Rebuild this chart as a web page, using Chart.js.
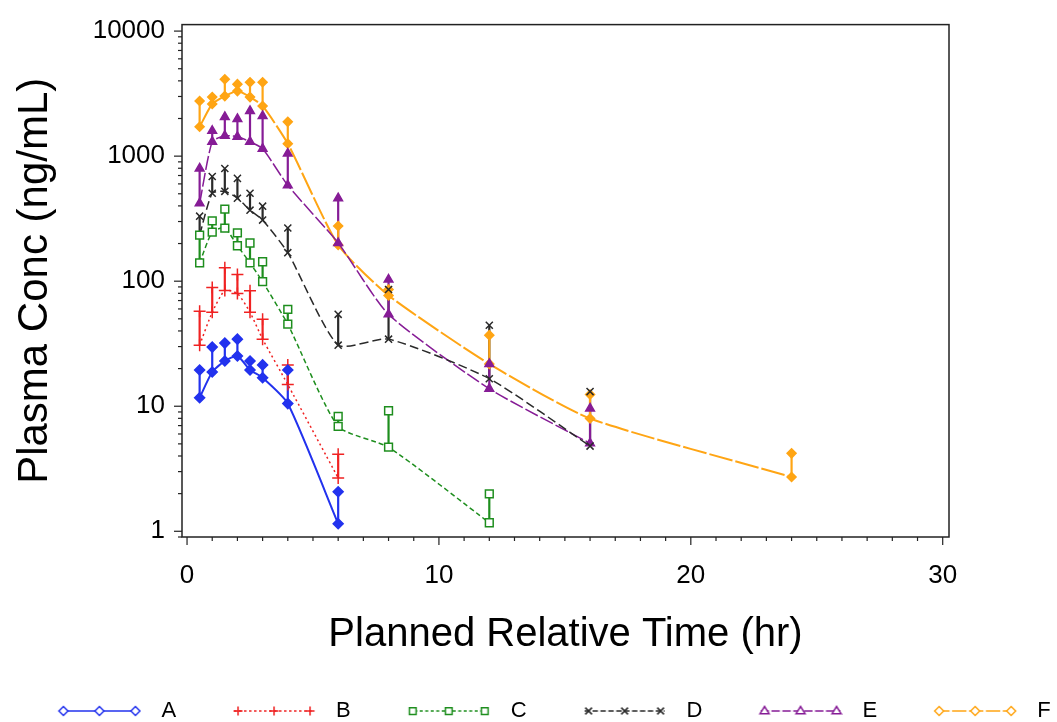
<!DOCTYPE html>
<html>
<head>
<meta charset="utf-8">
<script src="https://cdn.jsdelivr.net/npm/chart.js@4/dist/chart.umd.min.js"></script>
<style>
  body { margin: 0; background: #fff; overflow: hidden; }
  #wrap { width: 1057px; height: 722px; }
</style>
</head>
<body>
<div id="wrap"><canvas id="c"></canvas></div>
<script>
// sampling times (hr) per group
var timesAB = [0.5, 1, 1.5, 2, 2.5, 3, 4, 6];
var timesC  = [0.5, 1, 1.5, 2, 2.5, 3, 4, 6, 8, 12];
var timesDE = [0.5, 1, 1.5, 2, 2.5, 3, 4, 6, 8, 12, 16];
var timesF  = [0.5, 1, 1.5, 2, 2.5, 3, 4, 6, 8, 12, 16, 24];

// mean conc and mean+SD (top of error bar), ng/mL
var meanA  = [11.7, 18.8, 23.0, 25.2, 19.5, 16.9, 10.5, 1.15];
var upperA = [19.5, 29.7, 32.0, 34.4, 23.0, 21.4, 19.5, 2.07];
var meanB  = [30.8, 56.4, 84.2, 79.7, 56.4, 34.4, 14.9, 2.67];
var upperB = [57.4, 89, 128, 113, 84, 49.6, 21.4, 4.13];
var meanC  = [140, 247, 266, 192, 140, 99, 45.3, 6.9, 4.7, 1.17];
var upperC = [234, 303, 377, 243, 202, 143, 59.5, 8.3, 9.2, 1.99];
var meanD  = [234, 505, 523, 461, 370, 308, 169, 30.8, 34.4, 16.6, 4.8];
var upperD = [331, 688, 797, 664, 505, 398, 266, 54.3, 85.8, 44.4, 13.1];
var meanE  = [420, 1305, 1455, 1429, 1305, 1148, 584, 202, 54.3, 13.8, 5.05];
var upperE = [797, 1594, 2060, 1986, 2298, 2097, 1048, 461, 103, 21.8, 9.6];
var meanF  = [1716, 2612, 3022, 3313, 2967, 2518, 1258, 195, 76.9, 21.8, 7.98, 2.72];
var upperF = [2758, 2967, 4123, 3763, 3903, 3903, 1880, 276, 85.8, 37, 12.4, 4.2];

var groups = [
  {name: 'A', t: timesAB, mean: meanA, upper: upperA, color: '#2232ee', dash: [],      lw: 2,   marker: 'rectRot',  r: 5,   filled: true},
  {name: 'B', t: timesAB, mean: meanB, upper: upperB, color: '#f02222', dash: [2, 3],  lw: 1.5, marker: 'cross',    r: 6,   filled: false},
  {name: 'C', t: timesC,  mean: meanC, upper: upperC, color: '#1e8e1e', dash: [5, 3],  lw: 1.5, marker: 'rect',     r: 5.5, filled: false},
  {name: 'D', t: timesDE, mean: meanD, upper: upperD, color: '#2a2a2a', dash: [9, 4],  lw: 1.5, marker: 'crossRot', r: 5,   filled: false},
  {name: 'E', t: timesDE, mean: meanE, upper: upperE, color: '#861c96', dash: [14, 3], lw: 1.5, marker: 'triangle', r: 5,   filled: true},
  {name: 'F', t: timesF,  mean: meanF, upper: upperF, color: '#ffa514', dash: [24, 3], lw: 2,   marker: 'rectRot',  r: 4.5, filled: true}
];

function pts(t, v) {
  return t.map(function (x, k) { return {x: x, y: v[k]}; });
}

var datasets = [];
groups.forEach(function (g) {
  datasets.push({
    label: g.name,
    data: pts(g.t, g.mean),
    showLine: true,
    borderColor: g.color,
    borderWidth: g.lw,
    borderDash: g.dash,
    tension: 0.2,
    pointStyle: g.marker,
    pointRadius: g.r,
    pointBorderColor: g.color,
    pointBackgroundColor: g.filled ? g.color : '#fff',
    pointBorderWidth: 1.5
  });
  datasets.push({
    label: g.name + ' upper',
    isUpper: true,
    data: pts(g.t, g.upper),
    showLine: false,
    pointStyle: g.marker,
    pointRadius: g.r,
    pointBorderColor: g.color,
    pointBackgroundColor: g.filled ? g.color : '#fff',
    pointBorderWidth: 1.5
  });
});

// little marker drawer for the legend icons
function drawMarker(ctx, style, x, y, r) {
  ctx.beginPath();
  if (style === 'rectRot') {
    ctx.moveTo(x, y - r); ctx.lineTo(x + r, y); ctx.lineTo(x, y + r); ctx.lineTo(x - r, y); ctx.closePath();
    ctx.fill(); ctx.stroke();
  } else if (style === 'rect') {
    var s = r * 0.75;
    ctx.rect(x - s, y - s, 2 * s, 2 * s); ctx.fill(); ctx.stroke();
  } else if (style === 'triangle') {
    ctx.moveTo(x, y - r); ctx.lineTo(x + r, y + r * 0.6); ctx.lineTo(x - r, y + r * 0.6); ctx.closePath();
    ctx.fill(); ctx.stroke();
  } else if (style === 'cross') {
    ctx.moveTo(x - r, y); ctx.lineTo(x + r, y); ctx.moveTo(x, y - r); ctx.lineTo(x, y + r); ctx.stroke();
  } else if (style === 'crossRot') {
    var d = r * 0.75;
    ctx.moveTo(x - d, y - d); ctx.lineTo(x + d, y + d); ctx.moveTo(x + d, y - d); ctx.lineTo(x - d, y + d); ctx.stroke();
  }
}

function legendIcon(g) {
  var cv = document.createElement('canvas');
  cv.width = 126; cv.height = 18;
  var c = cv.getContext('2d');
  var x0 = 44, x1 = 124, y = 9;
  c.strokeStyle = g.color; c.lineWidth = 1.5;
  c.setLineDash(g.dash.map(function (v) { return Math.max(2.5, v * 0.6); }));
  c.beginPath(); c.moveTo(x0, y); c.lineTo(x1, y); c.stroke();
  c.setLineDash([]);
  c.fillStyle = '#fff';
  [x0 + 4, (x0 + x1) / 2, x1 - 4].forEach(function (mx) { drawMarker(c, g.marker, mx, y, 4.5); });
  return cv;
}

// vertical error bars mean -> mean+SD
var errorBars = {
  id: 'errorBars',
  beforeDatasetsDraw: function (chart) {
    var ctx = chart.ctx, xs = chart.scales.x, ys = chart.scales.y, a = chart.chartArea;
    ctx.save();
    ctx.beginPath(); ctx.rect(a.left, a.top, a.right - a.left, a.bottom - a.top); ctx.clip();
    groups.forEach(function (g) {
      ctx.strokeStyle = g.color; ctx.lineWidth = 2.2;
      g.t.forEach(function (t, k) {
        var px = xs.getPixelForValue(t);
        ctx.beginPath();
        ctx.moveTo(px, ys.getPixelForValue(g.mean[k]));
        ctx.lineTo(px, ys.getPixelForValue(g.upper[k]));
        ctx.stroke();
      });
    });
    ctx.restore();
  }
};

function isDecade(v) {
  var l = Math.log10(v);
  return Math.abs(l - Math.round(l)) < 1e-9;
}

// frame + outward tick marks (long majors, short minors)
var frame = {
  id: 'frame',
  afterDraw: function (chart) {
    var ctx = chart.ctx, a = chart.chartArea, xs = chart.scales.x, ys = chart.scales.y;
    ctx.save();
    ctx.strokeStyle = '#222'; ctx.lineWidth = 1.5;
    ctx.strokeRect(a.left, a.top, a.right - a.left, a.bottom - a.top);
    ctx.lineWidth = 1.2;
    ys.ticks.forEach(function (tk) {
      var v = tk.value;
      if (v < ys.min || v > ys.max) return;
      var m = v / Math.pow(10, Math.floor(Math.log10(v) + 1e-9));
      if (Math.abs(m - Math.round(m)) > 1e-6) return;
      var py = ys.getPixelForValue(v), len = isDecade(v) ? 8 : 4;
      ctx.beginPath(); ctx.moveTo(a.left - len, py); ctx.lineTo(a.left, py); ctx.stroke();
    });
    xs.ticks.forEach(function (tk) {
      var v = tk.value;
      if (Math.abs(v - Math.round(v)) > 1e-6) return;
      var px = xs.getPixelForValue(v), len = (Math.round(v) % 10 === 0) ? 8 : 4;
      ctx.beginPath(); ctx.moveTo(px, a.bottom); ctx.lineTo(px, a.bottom + len); ctx.stroke();
    });
    ctx.restore();
  }
};

var fam = '"Liberation Sans", Arial, Helvetica, sans-serif';
Chart.defaults.font.family = fam;
Chart.defaults.color = '#000';

new Chart(document.getElementById('c'), {
  type: 'scatter',
  data: {datasets: datasets},
  plugins: [errorBars, frame],
  options: {
    responsive: true,
    maintainAspectRatio: false,
    animation: false,
    layout: {padding: {top: 20, left: 0, right: 0, bottom: -10}},
    plugins: {
      tooltip: {enabled: false},
      legend: {
        position: 'bottom',
        labels: {
          usePointStyle: true,
          pointStyleWidth: 144,
          padding: 5,
          color: '#000',
          font: {size: 22, family: fam},
          generateLabels: function (chart) {
            return groups.map(function (g, i) {
              return {
                text: g.name, pointStyle: legendIcon(g), datasetIndex: i * 2,
                fillStyle: g.color, strokeStyle: g.color, lineWidth: 0, hidden: false, fontColor: '#000'
              };
            });
          }
        }
      }
    },
    scales: {
      x: {
        type: 'linear',
        min: -0.2,
        max: 30.25,
        border: {display: false},
        grid: {display: true, drawOnChartArea: false, tickLength: 8, color: 'rgba(0,0,0,0)'},
        ticks: {
          stepSize: 1, autoSkip: false, maxRotation: 0, includeBounds: false, padding: 15,
          font: {size: 26},
          callback: function (v) { return (Math.abs(v % 10) < 1e-9) ? String(v) : ''; }
        },
        title: {display: true, text: 'Planned Relative Time (hr)', font: {size: 40}, padding: {top: 0, bottom: 36}},
        afterFit: function (s) {
          var lh = s.chart.legend ? s.chart.legend.height : 35;
          s.height = s.chart.height + 10 - 537 - lh;
        }
      },
      y: {
        type: 'logarithmic',
        min: 0.9,
        max: 11270,
        border: {display: false},
        grid: {display: true, drawOnChartArea: false, tickLength: 8, color: 'rgba(0,0,0,0)'},
        ticks: {
          autoSkip: false, padding: 9,
          font: {size: 26},
          callback: function (v) { return isDecade(v) ? String(Math.round(v)) : ''; }
        },
        title: {display: true, text: 'Plasma Conc (ng/mL)', font: {size: 42}, padding: {top: 10, bottom: 0}},
        afterFit: function (s) { s.width = 182; }
      },
      yPad: {
        type: 'linear',
        position: 'right',
        display: true,
        min: 0, max: 1,
        grid: {display: false},
        border: {display: false},
        ticks: {display: false},
        afterFit: function (s) { s.width = 108; }
      }
    }
  }
});
</script>
</body>
</html>
